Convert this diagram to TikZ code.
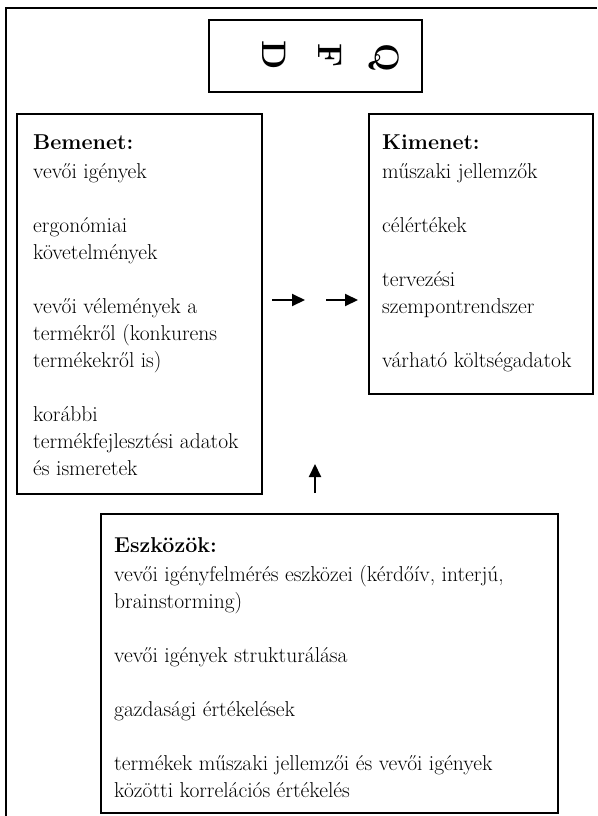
\documentclass[tikz,border=0pt]{standalone}
\usepackage{tikz}
\usetikzlibrary{positioning,arrows.meta}

\begin{document}
\begin{tikzpicture}[x=1pt,y=-1pt,
 keret/.style={draw=black, line width=2.3pt, inner sep=0pt, anchor=north west},
 lista/.style={align=left, inner sep=0pt, font=\fontsize{21.5}{27}\selectfont},
 nyil/.style={line width=2pt, -{Triangle[length=13pt,width=12pt]}}]
 \path[use as bounding box] (0,0) rectangle (597,816);
\draw[line width=1.3pt] (6,816) -- (6,8) -- (597,8);

\node[keret, line width=2pt, minimum width=213pt, minimum height=72pt] (qfd) at (208,19) {};
\foreach \betu/\x/\y in {D/262/55, F/318/56, Q/375/58}
	\node[rotate=-90, anchor=base, inner sep=0pt, font=\fontsize{34}{34}\selectfont\bfseries] (qfd\betu) at (\x,\y) {\betu};

\node[keret, minimum width=245pt, minimum height=380pt] (bemenet) at (16,113) {};
\node[lista, below right=22pt and 17pt of bemenet.north west] (bemenetlista) {\textbf{Bemenet:}\\[2pt]
 vevői igények\\[27pt]
 ergonómiai\\ követelmények\\[27pt]
 vevői vélemények a\\ termékről (konkurens\\ termékekről is)\\[27pt]
 korábbi\\ termékfejlesztési adatok\\ és ismeretek};

\node[keret, minimum width=224pt, minimum height=280pt] (kimenet) at (368,113) {};
\node[lista, below right=22pt and 14pt of kimenet.north west] (kimenetlista) {\textbf{Kimenet:}\\[2pt]
 műszaki jellemzők\\[27pt]
 célértékek\\[27pt]
 tervezési\\ szempontrendszer\\[27pt]
 várható költségadatok};

\node[keret, minimum width=457pt, minimum height=299pt] (eszkozok) at (100,513) {};
\node[lista, below right=24pt and 14pt of eszkozok.north west] (eszkozoklista) {\textbf{Eszközök:}\\[2pt]
 vevői igényfelmérés eszközei (kérdőív, interjú,\\ brainstorming)\\[27pt]
 vevői igények strukturálása\\[27pt]
 gazdasági értékelések\\[27pt]
 termékek műszaki jellemzői és vevői igények\\ közötti korrelációs értékelés};

\foreach \i/\xa/\xb in {1/272/305, 2/326/358} {
	\coordinate (nyil\i a) at (\xa,300);
	\coordinate (nyil\i b) at (\xb,300);
	\draw[nyil] (nyil\i a) -- (nyil\i b);
}
\coordinate (fela) at (315,493);
\coordinate (felb) at (315,464);
\draw[nyil] (fela) -- (felb);

\end{tikzpicture}
\end{document}
